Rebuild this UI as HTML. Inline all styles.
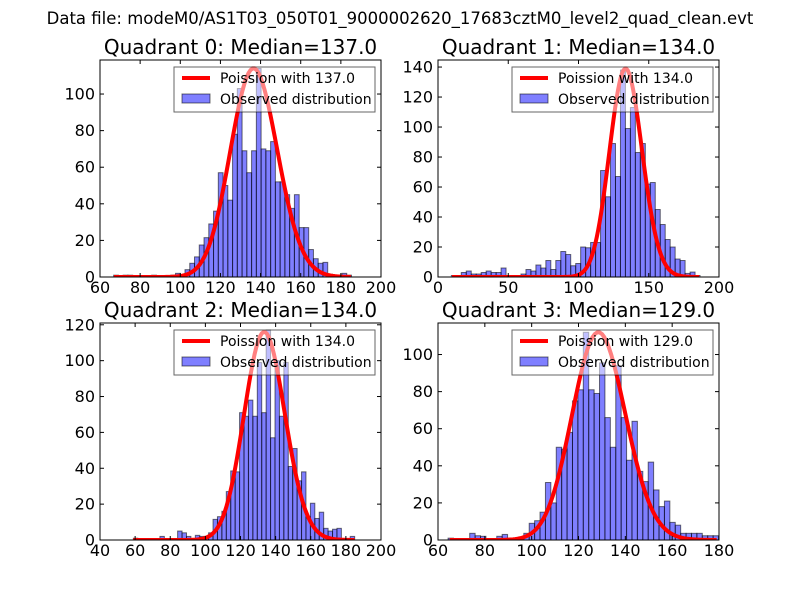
<!DOCTYPE html>
<html><head><meta charset="utf-8"><style>
html,body{margin:0;padding:0;background:#fff;}
svg{display:block;font-family:"DejaVu Sans","Liberation Sans",sans-serif;}
</style></head><body>
<svg id="fig" width="800" height="600" viewBox="0 0 800 600">
<text x="400" y="24" text-anchor="middle" font-size="16.5">Data file: modeM0/AS1T03_050T01_9000002620_17683cztM0_level2_quad_clean.evt</text>
</svg>
<script>
// ---- data ----
const titles = ["Quadrant 0: Median=137.0","Quadrant 1: Median=134.0","Quadrant 2: Median=134.0","Quadrant 3: Median=129.0"];
const medians = [137, 134, 134, 129];
const curveScale = [3345, 4033, 3366, 3189];
const binStart = [66.8, 9.5, 59.0, 64.3];
const binWidth = [2.37, 3.54, 2.52, 2.31];
const counts0 = [1,0,1,1,0,0,0,0,1,0,0,0,1,2,1,4,7.5,11,17.5,21.5,29,36,57,50,42,78,103,69,57,69,114,70,69,74,52,52,45,37.5,45,27,27,15,10,7.5,8,1.5,0,0,2,1];
const counts1 = [1,1,3,4,2,2,3,4,3,3,6,1,1,1,2,5,4,8,6,11,5,11,17,15,7.5,9,20,19.5,23,23,71,53.5,89,67,138,99,113,83,89,62,63,45,35,25,20,12,11,2.4,3.3,1];
const counts2 = [1,0,0,0,0,0,2,0,0,0,5,4,2,0,2.6,2,2,4,11.5,13,16,27,38.5,38,71,69,78,69,99,71,117,57,100,69,99,41,51,33,38,13,20.5,12,15.5,6.5,5,6,6.5,0,0,2];
const counts3 = [1,0,0,0,3.6,2.3,2,0,0,2,3,0,0,1.4,3.6,9,10.4,15,31,20,50,49,58,75,81,112,81,79,95.5,66,50,94,66,43,64,37,31.5,42,27,18,21,9.5,8,3.6,3.6,3.6,3.6,2.3,2.3,2.3];
const xTicks0 = [60,80,100,120,140,160,180,200];
const xTicks1 = [0,50,100,150,200];
const xTicks2 = [40,60,80,100,120,140,160,180,200];
const xTicks3 = [60,80,100,120,140,160,180];
const yTicks0 = [0,20,40,60,80,100];
const yTicks1 = [0,20,40,60,80,100,120,140];
const yTicks2 = [0,20,40,60,80,100,120];
const yTicks3 = [0,20,40,60,80,100];
const xDomains = [[60,200],[0,200],[40,200],[60,180]];
const yMax = [118.6, 144.7, 121, 117];

const NS = "http://www.w3.org/2000/svg";
const svg = document.getElementById('fig');
function mk(tag, attrs, parent){ const e=document.createElementNS(NS,tag); for(const k in attrs) e.setAttribute(k,attrs[k]); (parent||svg).appendChild(e); return e; }
function logFact(k){ let s=0; for(let i=2;i<=k;i++) s+=Math.log(i); return s; }
function pois(k,l){ return Math.exp(k*Math.log(l)-l-logFact(k)); }

const boxes = [[100,60,381,277],[438,60,719,277],[100,323,381,540],[438,323,719,540]];
const allCounts=[counts0,counts1,counts2,counts3];
const allX=[xTicks0,xTicks1,xTicks2,xTicks3];
const allY=[yTicks0,yTicks1,yTicks2,yTicks3];

for(let p=0;p<4;p++){
  const [L,T,R,B]=boxes[p];
  const [x0,x1]=xDomains[p];
  const sx=v=>L+(v-x0)/(x1-x0)*(R-L);
  const sy=v=>B-v/yMax[p]*(B-T);
  const g=mk('g',{});
  
  
  const cid='clip'+p;
  const cp=mk('clipPath',{id:cid},g); mk('rect',{x:L,y:T,width:R-L,height:B-T},cp);
  const t=mk('text',{x:(L+R)/2,y:T-6,'text-anchor':'middle','font-size':'20'},g);
  t.textContent=titles[p];
  
  
  allCounts[p].forEach((v,i)=>{
    const xa=sx(binStart[p]+i*binWidth[p]), xb=sx(binStart[p]+(i+1)*binWidth[p]);
    const r=mk('rect',{x:xa,y:sy(v),width:xb-xa,height:B-sy(v),fill:'rgba(0,0,255,0.5)',stroke:'rgba(0,0,0,0.55)','stroke-width':'1','clip-path':'url(#'+cid+')'},g);
    
    
  });
  const n=allCounts[p].length;
  const lo=binStart[p], hi=binStart[p]+n*binWidth[p];
  let d='';
  for(let k=Math.ceil(lo);k<=Math.floor(hi);k++){ d+=(d?'L':'M')+sx(k).toFixed(2)+','+sy(pois(k,medians[p])*curveScale[p]).toFixed(2); }
  const c=mk('path',{d:d,fill:'none',stroke:'#ff0000','stroke-width':'4','stroke-linejoin':'round','clip-path':'url(#'+cid+')'},g);
  
  
  mk('rect',{x:L,y:T,width:R-L,height:B-T,fill:'none',stroke:'#000','stroke-width':'1'},g);
  allX[p].forEach(v=>{
    const x=sx(v);
    mk('line',{x1:x,y1:B,x2:x,y2:B-4,stroke:'#000'},g);
    mk('line',{x1:x,y1:T,x2:x,y2:T+4,stroke:'#000'},g);
    const tl=mk('text',{x:x,y:B+16,'text-anchor':'middle','font-size':'16'},g);
    tl.textContent=v;
    
    
  });
  allY[p].forEach(v=>{
    const y=sy(v);
    mk('line',{x1:L,y1:y,x2:L+4,y2:y,stroke:'#000'},g);
    mk('line',{x1:R,y1:y,x2:R-4,y2:y,stroke:'#000'},g);
    const tl=mk('text',{x:L-5,y:y+5.5,'text-anchor':'end','font-size':'16'},g);
    tl.textContent=v;
    
    
  });
  const lx=L+74, ly=T+7;
  const lg=mk('g',{},g);
  
  
  mk('rect',{x:lx,y:ly,width:201,height:45,fill:'rgba(255,255,255,0.5)',stroke:'rgba(0,0,0,0.6)','stroke-width':'1'},lg);
  mk('line',{x1:lx+8,y1:ly+11,x2:lx+36,y2:ly+11,stroke:'#ff0000','stroke-width':'4'},lg);
  const l1=mk('text',{x:lx+46,y:ly+16,'font-size':'14'},lg); l1.textContent='Poission with '+medians[p].toFixed(1);
  
  
  mk('rect',{x:lx+8,y:ly+27,width:28,height:9,fill:'rgba(0,0,255,0.5)',stroke:'rgba(0,0,0,0.55)'},lg);
  const l2=mk('text',{x:lx+46,y:ly+37,'font-size':'14'},lg); l2.textContent='Observed distribution';
  
  
}
</script>
</body></html>
